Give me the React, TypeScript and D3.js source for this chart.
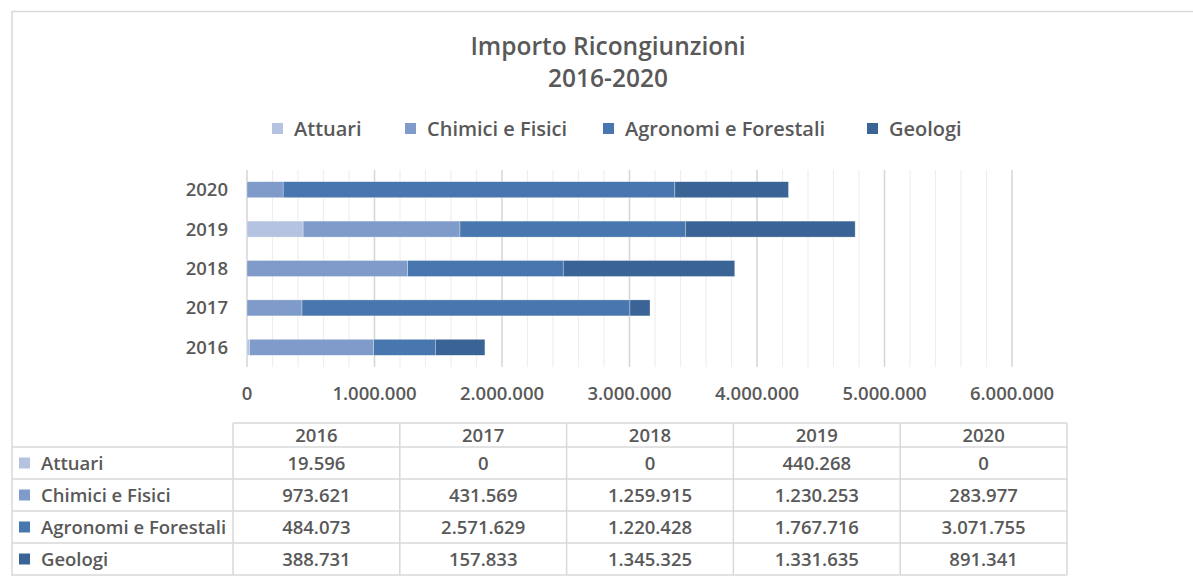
import React from "react";
import * as d3 from "d3";

const years = ["2016", "2017", "2018", "2019", "2020"];
const seriesNames = ["Attuari", "Chimici e Fisici", "Agronomi e Forestali", "Geologi"];
const attuari = [19596, 0, 0, 440268, 0];
const chimici = [973621, 431569, 1259915, 1230253, 283977];
const agronomi = [484073, 2571629, 1220428, 1767716, 3071755];
const geologi = [388731, 157833, 1345325, 1331635, 891341];
const xTicks = [0, 1000000, 2000000, 3000000, 4000000, 5000000, 6000000];
const colors = ["#B4C3DF", "#7F9BC9", "#4877B0", "#3B6496"];

const seriesValues = [attuari, chimici, agronomi, geologi];

const W = 1193;
const H = 582;
const FONT = "'Open Sans', Lato, sans-serif";
const TXT = "#595959";

const fmt = (v: number) => d3.format(",")(v).replace(/,/g, ".");

export default function App() {
  const x = d3.scaleLinear().domain([0, 6000000]).range([247, 1012]);
  const yOrder = [...years].reverse();
  const y = d3
    .scaleBand()
    .domain(yOrder)
    .range([170, 367])
    .paddingInner(0.594)
    .paddingOuter(0.297);

  const table = years.map((yr, i) => {
    const obj: any = { year: yr };
    seriesNames.forEach((s, k) => (obj[s] = seriesValues[k][i]));
    return obj;
  });
  const stacked = d3.stack<any>().keys(seriesNames)(table);

  const gridVals = d3.range(0, 6000001, 200000);

  const colEdges = [233, 399.8, 566.6, 733.4, 900.2, 1067];
  const rowEdges = [423, 447, 479, 511, 543, 575];

  const legendX = [272, 405, 603, 867];

  return (
    <svg
      width={W}
      height={H}
      style={{ position: "absolute", left: 0, top: 0, background: "#fff" }}
      fontFamily={FONT}
    >
      <line x1={12} x2={W} y1={11.5} y2={11.5} stroke="#d9d9d9" strokeWidth={1.5} />
      <line x1={12} x2={12} y1={11} y2={576} stroke="#d9d9d9" strokeWidth={1.5} />

      <text x={608} y={55} textAnchor="middle" fontSize={24.5} fill={TXT} fontWeight={600}>
        Importo Ricongiunzioni
      </text>
      <text x={608} y={87} textAnchor="middle" fontSize={24.5} fill={TXT} fontWeight={600}>
        2016-2020
      </text>

      {seriesNames.map((s, i) => (
        <g key={s}>
          <rect x={legendX[i]} y={123} width={11} height={11} fill={colors[i]} />
          <text x={legendX[i] + 22} y={136} fontSize={20} fill={TXT} fontWeight={600}>
            {s}
          </text>
        </g>
      ))}

      {gridVals.map((v) => {
        const major = v % 1000000 === 0;
        return (
          <line
            key={v}
            x1={x(v)}
            x2={x(v)}
            y1={170}
            y2={367}
            stroke={major ? "#d4d4d4" : "#eeeeee"}
            strokeWidth={major ? 1.5 : 1.2}
          />
        );
      })}

      {stacked.map((layer, k) => (
        <g key={layer.key} fill={colors[k]}>
          {layer.map((d, i) =>
            d[1] - d[0] > 0 ? (
              <rect
                key={i}
                x={x(d[0])}
                y={y(years[i])!}
                width={x(d[1]) - x(d[0])}
                height={y.bandwidth()}
                stroke="#ffffff"
                strokeOpacity={0.5}
                strokeWidth={0.6}
              />
            ) : null
          )}
        </g>
      ))}

      {years.map((yr) => (
        <text
          key={yr}
          x={228}
          y={y(yr)! + y.bandwidth() / 2 + 6.5}
          textAnchor="end"
          fontSize={18.5}
          fontWeight={600}
          fill={TXT}
        >
          {yr}
        </text>
      ))}

      {xTicks.map((t) => (
        <text key={t} x={x(t)} y={400} textAnchor="middle" fontSize={18.5} fontWeight={600} fill={TXT}>
          {fmt(t)}
        </text>
      ))}

      <g stroke="#d9d9d9" strokeWidth={1.5}>
        <line x1={colEdges[0]} x2={colEdges[5]} y1={rowEdges[0]} y2={rowEdges[0]} />
        {rowEdges.slice(1).map((r, i) => (
          <line key={i} x1={12} x2={colEdges[5]} y1={r} y2={r} />
        ))}
        {colEdges.map((c, i) => (
          <line key={i} x1={c} x2={c} y1={rowEdges[0]} y2={rowEdges[5]} />
        ))}
      </g>
      {years.map((yr, i) => (
        <text
          key={yr}
          x={(colEdges[i] + colEdges[i + 1]) / 2}
          y={(rowEdges[0] + rowEdges[1]) / 2 + 6.5}
          textAnchor="middle"
          fontSize={18.5}
          fontWeight={600}
          fill={TXT}
        >
          {yr}
        </text>
      ))}
      {seriesNames.map((s, k) => {
        const cy = (rowEdges[k + 1] + rowEdges[k + 2]) / 2;
        return (
          <g key={s}>
            <rect x={19} y={cy - 5.5} width={11} height={11} fill={colors[k]} />
            <text x={41} y={cy + 6.5} fontSize={18.5} fontWeight={600} fill={TXT}>
              {s}
            </text>
            {seriesValues[k].map((v, i) => (
              <text
                key={i}
                x={(colEdges[i] + colEdges[i + 1]) / 2}
                y={cy + 6.5}
                textAnchor="middle"
                fontSize={18.5}
                fontWeight={600}
                fill={TXT}
              >
                {fmt(v)}
              </text>
            ))}
          </g>
        );
      })}
    </svg>
  );
}
